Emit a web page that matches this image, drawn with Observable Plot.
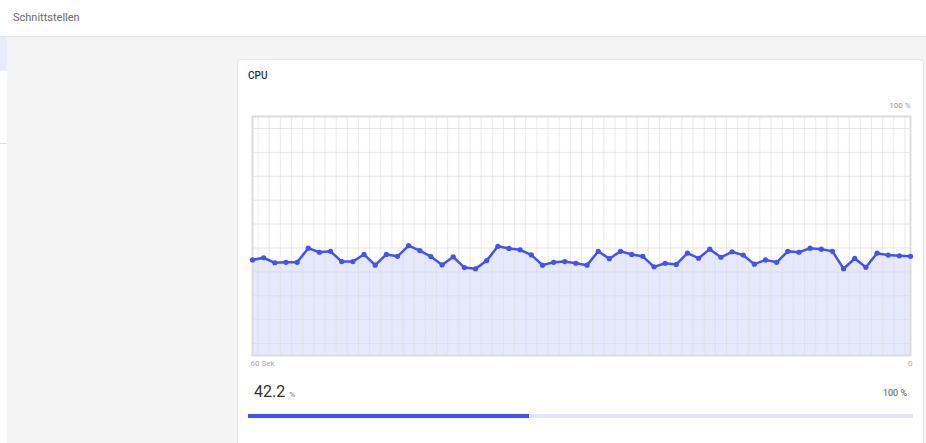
<!DOCTYPE html>
<html>
<head>
<meta charset="utf-8">
<script src="https://cdn.jsdelivr.net/npm/d3@7"></script>
<script src="https://cdn.jsdelivr.net/npm/@observablehq/plot@0.6"></script>
<style>
  html, body { margin: 0; padding: 0; }
  body { width: 926px; height: 443px; overflow: hidden; background: #f4f4f4; font-family: Roboto, "Noto Sans", sans-serif; position: relative; }
  #header { position: absolute; left: 0; top: 0; width: 926px; height: 36px; background: #fff; border-bottom: 1px solid #e2e2e2; }
  #header span { position: absolute; left: 13px; top: 11px; font-size: 11px; color: #6a6a6a; }
  #side { position: absolute; left: 0; top: 37px; width: 7px; height: 406px; background: #fff; }
  #side .hl { position: absolute; left: 0; top: 0; width: 7px; height: 34px; background: #e9ebfb; }
  #side .ln { position: absolute; left: 0; top: 106px; width: 7px; height: 1px; background: #e0e0e0; }
  #card { position: absolute; left: 237px; top: 59px; width: 685px; height: 400px; background: #fff; border: 1px solid #e6e6e6; border-radius: 4px; }
  #title { position: absolute; left: 248px; top: 70px; font-size: 10px; font-weight: 500; color: #26324a; }
  #chart { position: absolute; left: 237px; top: 95px; }
  #value { position: absolute; left: 254px; top: 382px; font-size: 16px; color: #333; }
  #value small { font-size: 8px; color: #777; }
  #max { position: absolute; right: 19px; top: 388px; font-size: 9px; color: #555; }
  #bar { position: absolute; left: 248px; top: 414px; width: 665px; height: 4px; background: #e3e6fb; }
  #bar div { height: 4px; background: #4353f2; }
</style>
</head>
<body>
<div id="header"><span>Schnittstellen</span></div>
<div id="side"><div class="hl"></div><div class="ln"></div></div>
<div id="card"></div>
<div id="title">CPU</div>
<div id="chart"></div>
<div id="value"></div>
<div id="max"></div>
<div id="bar"><div></div></div>
<script>
// CPU load (%) over the last 60 seconds, oldest first
const cpuValues = [
  40.0, 40.9, 38.8, 39.0, 39.0, 44.9, 43.2, 43.6, 39.3, 39.3,
  42.3, 37.8, 42.3, 41.5, 46.0, 43.9, 41.4, 37.9, 41.3, 36.8,
  36.3, 39.7, 45.7, 44.8, 44.2, 42.1, 37.8, 39.0, 39.3, 38.6,
  37.8, 43.6, 40.5, 43.6, 42.3, 41.5, 37.1, 38.6, 38.1, 42.8,
  40.7, 44.5, 41.1, 43.4, 42.0, 38.2, 40.0, 39.0, 43.6, 43.2,
  44.9, 44.5, 43.6, 36.3, 40.6, 36.9, 42.8, 42.0, 41.7, 41.5
];
const currentValue = 42.2;
const maxLabel = "100 %";
const leftLabel = "60 Sek";
const rightLabel = "0";
const unit = "%";
const yGridValues = [5, 15, 25, 35, 45, 55, 65, 75, 85, 95];

const data = cpuValues.map((v, i) => ({i, v}));
const xGridValues = d3.range(cpuValues.length - 1).map(i => i + 0.5);

const blue = "#4353f2";

const chart = Plot.plot({
  width: 686,
  height: 280,
  marginLeft: 15,
  marginRight: 13,
  marginTop: 21,
  marginBottom: 20,
  style: {background: "transparent", fontFamily: "Roboto, sans-serif"},
  x: {domain: [0, cpuValues.length - 1], axis: null},
  y: {domain: [0, 100], axis: null},
  marks: [
    Plot.areaY(data, {x: "i", y: "v", fill: "#e6e8fc"}),
    Plot.ruleX(xGridValues, {stroke: "#dcdcdc", strokeOpacity: 0.6, strokeWidth: 1}),
    Plot.ruleY(yGridValues, {stroke: "#dcdcdc", strokeOpacity: 0.7, strokeWidth: 1}),
    Plot.frame({stroke: "#dcdcdc", strokeWidth: 2}),
    Plot.line(data, {x: "i", y: "v", stroke: blue, strokeWidth: 2.5}),
    Plot.dot(data, {x: "i", y: "v", r: 2.6, fill: blue}),
    Plot.text([maxLabel], {frameAnchor: "top-right", dy: -14, text: d => d, fill: "#999", fontSize: 8}),
    Plot.text([leftLabel], {frameAnchor: "bottom-left", dx: -2, dy: 10, text: d => d, fill: "#aaa", fontSize: 8}),
    Plot.text([rightLabel], {frameAnchor: "bottom-right", dx: 2, dy: 10, text: d => d, fill: "#aaa", fontSize: 8})
  ]
});
document.getElementById("chart").appendChild(chart);

document.getElementById("value").innerHTML = `${currentValue.toFixed(1)} <small>${unit}</small>`;
document.getElementById("max").textContent = maxLabel;
document.querySelector("#bar div").style.width = `${currentValue}%`;
</script>
</body>
</html>
